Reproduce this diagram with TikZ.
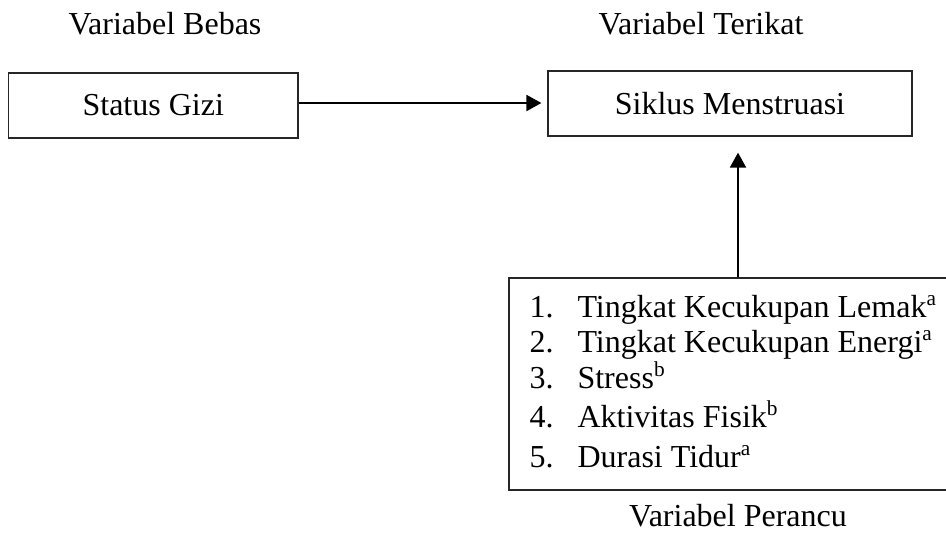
\documentclass[tikz,border=0pt]{standalone}
\usepackage{fontspec}
\setmainfont{Liberation Serif}
\usetikzlibrary{arrows.meta,calc}
\begin{document}
\begin{tikzpicture}[x=0.375pt,y=-0.375pt,
  box/.style={draw=black!85, line width=0.45pt, inner sep=0pt, fill=none},
  lbl/.style={inner sep=0pt, font=\fontsize{12pt}{14pt}\selectfont},
  item/.style={inner sep=0pt, anchor=base west, font=\fontsize{12pt}{14pt}\selectfont},
  arr/.style={line width=0.65pt, -{Triangle[length=5.6pt,width=6pt]}}]
\useasboundingbox (0,0) rectangle (946,553);
\clip (0,0) rectangle (946,553);
% titles
\node[lbl, anchor=base] (tb) at (165,34) {Variabel Bebas};
\node[lbl, anchor=base] (tt) at (701,34) {Variabel Terikat};
\node[lbl, anchor=base] (tp) at (738,526) {Variabel Perancu};
% boxes
\node[box, minimum width=108.6pt, minimum height=24.4pt, lbl] (gizi) at (153.25,105.5) {Status Gizi};
\node[box, minimum width=136.5pt, minimum height=24.4pt, lbl] (siklus) at (730,103.5) {Siklus Menstruasi};
\node[box, minimum width=165.4pt, minimum height=79.5pt] (conf) at (729.5,384) {};
% list
\node[item] (n1) at (529,317) {1.};
\node[item] (i1) at (577,317) {Tingkat Kecukupan Lemak\textsuperscript{a}};
\node[item] (n2) at (529,352) {2.};
\node[item] (i2) at (577,352) {Tingkat Kecukupan Energi\textsuperscript{a}};
\node[item] (n3) at (529,388) {3.};
\node[item] (i3) at (577,388) {Stress\textsuperscript{b}};
\node[item] (n4) at (529,427) {4.};
\node[item] (i4) at (577,427) {Aktivitas Fisik\textsuperscript{b}};
\node[item] (n5) at (529,467) {5.};
\node[item] (i5) at (577,467) {Durasi Tidur\textsuperscript{a}};
% connectors
\coordinate (hy) at (0,103);
\coordinate (vx) at (738,0);
\draw[arr, shorten >=2.25pt] (gizi.east |- hy) -- (siklus.west |- hy);
\draw[arr, shorten >=6pt] (conf.north -| vx) -- (siklus.south -| vx);
\end{tikzpicture}
\end{document}
